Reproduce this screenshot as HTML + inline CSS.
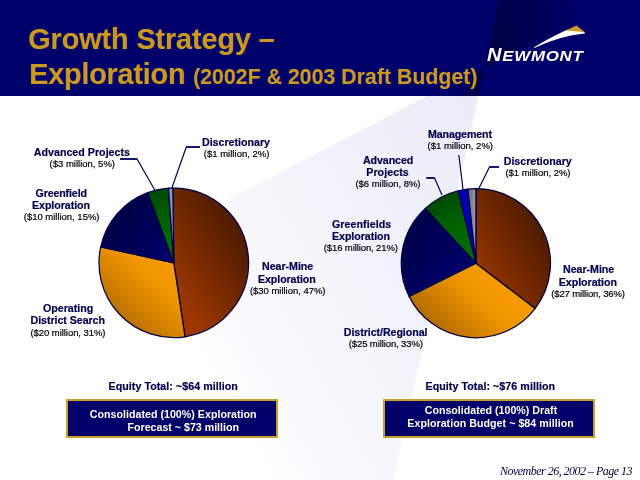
<!DOCTYPE html>
<html><head><meta charset="utf-8"><title>Growth Strategy - Exploration</title>
<style>
html,body{margin:0;padding:0;background:#fff;}
body{width:640px;height:480px;position:relative;overflow:hidden;font-family:"Liberation Sans",sans-serif;}
.tx{position:absolute;left:0;top:0;width:640px;height:480px;opacity:0.999;}
.t{position:absolute;width:300px;text-align:center;white-space:nowrap;}
.h{opacity:0.999;position:absolute;left:28px;color:#cb9a1c;font-weight:bold;white-space:nowrap;font-family:"Liberation Sans",sans-serif;font-size:29px;line-height:29px;letter-spacing:-0.3px}
.h span{font-size:21.33px;letter-spacing:0}
.box{position:absolute;background:#000068;border:2px solid #c8a030;box-sizing:border-box;}
.logo{will-change:transform;position:absolute;color:#fff;font-family:"Liberation Sans",sans-serif;font-weight:bold;font-style:italic;white-space:nowrap;}
</style></head><body>
<svg width="640" height="480" viewBox="0 0 640 480" style="position:absolute;left:0;top:0">

<defs>
 <linearGradient id="lav" gradientUnits="userSpaceOnUse" x1="484" y1="68" x2="136" y2="264">
  <stop offset="0" stop-color="#ebebf8"/><stop offset="0.35" stop-color="#f0f0fa"/><stop offset="0.69" stop-color="#f6f6fc"/><stop offset="0.88" stop-color="#fcfcfe"/><stop offset="1" stop-color="#ffffff"/>
 </linearGradient>
 <linearGradient id="dk" gradientUnits="userSpaceOnUse" x1="488" y1="45" x2="590" y2="25">
  <stop offset="0" stop-color="#000042"/><stop offset="1" stop-color="#000042" stop-opacity="0"/>
 </linearGradient>
 <linearGradient id="dk2" gradientUnits="userSpaceOnUse" x1="480" y1="90" x2="455" y2="84">
  <stop offset="0" stop-color="#000040" stop-opacity="0.9"/><stop offset="1" stop-color="#000040" stop-opacity="0"/>
 </linearGradient>
 <linearGradient id="brL" gradientUnits="userSpaceOnUse" x1="174" y1="290" x2="252" y2="240">
  <stop offset="0" stop-color="#9c3700"/><stop offset="1" stop-color="#4a1a00"/>
 </linearGradient>
 <linearGradient id="orL" gradientUnits="userSpaceOnUse" x1="185" y1="262" x2="118" y2="335">
  <stop offset="0" stop-color="#f89c00"/><stop offset="0.35" stop-color="#f09600"/><stop offset="1" stop-color="#aa6600"/>
 </linearGradient>
 <linearGradient id="brR" gradientUnits="userSpaceOnUse" x1="476" y1="282" x2="553" y2="238">
  <stop offset="0" stop-color="#9c3700"/><stop offset="1" stop-color="#4a1a00"/>
 </linearGradient>
 <linearGradient id="orR" gradientUnits="userSpaceOnUse" x1="498" y1="268" x2="430" y2="338">
  <stop offset="0" stop-color="#f89c00"/><stop offset="0.35" stop-color="#f09600"/><stop offset="1" stop-color="#a86400"/>
 </linearGradient>
 <linearGradient id="gyR" gradientUnits="userSpaceOnUse" x1="467" y1="0" x2="476" y2="0">
  <stop offset="0" stop-color="#5c5c68"/><stop offset="1" stop-color="#a4a4b0"/>
 </linearGradient>
 <radialGradient id="grL" gradientUnits="userSpaceOnUse" cx="173.8" cy="263.2" r="75">
  <stop offset="0" stop-color="#007000"/><stop offset="0.6" stop-color="#006200"/><stop offset="1" stop-color="#004a00"/>
 </radialGradient>
 <radialGradient id="grR" gradientUnits="userSpaceOnUse" cx="475.9" cy="263.2" r="75">
  <stop offset="0" stop-color="#007000"/><stop offset="0.6" stop-color="#006200"/><stop offset="1" stop-color="#004a00"/>
 </radialGradient>
 <linearGradient id="nvL" gradientUnits="userSpaceOnUse" x1="108" y1="205" x2="172" y2="262">
  <stop offset="0" stop-color="#000040"/><stop offset="1" stop-color="#00006c"/>
 </linearGradient>
 <linearGradient id="nvR" gradientUnits="userSpaceOnUse" x1="405" y1="205" x2="472" y2="268">
  <stop offset="0" stop-color="#000040"/><stop offset="1" stop-color="#00006c"/>
 </linearGradient>
</defs>

<rect x="0" y="0" width="640" height="480" fill="#ffffff"/>
<polygon points="478.2,96 427.6,96 0,317.2 0,480 393.5,480" fill="url(#lav)"/>
<rect x="0" y="0" width="640" height="96" fill="#00006b"/>
<polygon points="499,0 484.2,68.4 618,0" fill="url(#dk)"/>
<polygon points="484.2,68.4 478.2,96 427.6,96" fill="url(#dk2)"/>
<g fill="none" stroke="#000058" stroke-width="1.2">
 <polyline points="137,159 154.8,190"/>
 <polyline points="186.3,147 171.5,189"/>
 <polyline points="458.8,155 463,189"/>
 <polyline points="434.5,178 442,195"/>
 <polyline points="489.5,167 478.8,188.5"/>
</g>
<g fill="none" stroke="#000058" stroke-width="1.8">
 <polyline points="120,159 137.4,159"/>
 <polyline points="200,147 186,147"/>
 <polyline points="426.3,178 434.8,178"/>
 <polyline points="499,167 489.2,167"/>
</g>
<path d="M173.80,262.80 L172.89,188.01 A74.8,74.8 0 0 1 184.99,336.76 Z" fill="url(#brL)" stroke="#000048" stroke-width="1.25" stroke-linejoin="round"/>
<path d="M173.80,262.80 L184.99,336.76 A74.8,74.8 0 0 1 100.72,246.87 Z" fill="url(#orL)" stroke="#000048" stroke-width="1.25" stroke-linejoin="round"/>
<path d="M173.80,262.80 L100.72,246.87 A74.8,74.8 0 0 1 147.73,192.69 Z" fill="url(#nvL)" stroke="#000048" stroke-width="1.25" stroke-linejoin="round"/>
<path d="M173.80,262.80 L147.73,192.69 A74.8,74.8 0 0 1 168.45,188.19 Z" fill="url(#grL)" stroke="#000048" stroke-width="1.25" stroke-linejoin="round"/>
<path d="M173.80,262.80 L168.45,188.19 A74.8,74.8 0 0 1 172.89,188.01 Z" fill="#8c94b4" stroke="#000048" stroke-width="1.25" stroke-linejoin="round"/>
<path d="M475.90,263.20 L475.90,188.60 A74.6,74.6 0 0 1 535.08,308.61 Z" fill="url(#brR)" stroke="#000048" stroke-width="1.25" stroke-linejoin="round"/>
<path d="M475.90,263.20 L535.08,308.61 A74.6,74.6 0 0 1 409.08,296.37 Z" fill="url(#orR)" stroke="#000048" stroke-width="1.25" stroke-linejoin="round"/>
<path d="M475.90,263.20 L409.08,296.37 A74.6,74.6 0 0 1 425.31,208.38 Z" fill="url(#nvR)" stroke="#000048" stroke-width="1.25" stroke-linejoin="round"/>
<path d="M475.90,263.20 L425.31,208.38 A74.6,74.6 0 0 1 458.11,190.75 Z" fill="url(#grR)" stroke="#000048" stroke-width="1.25" stroke-linejoin="round"/>
<path d="M475.90,263.20 L458.11,190.75 A74.6,74.6 0 0 1 467.84,189.04 Z" fill="#0000b0" stroke="#000048" stroke-width="1.25" stroke-linejoin="round"/>
<path d="M475.90,263.20 L467.84,189.04 A74.6,74.6 0 0 1 475.90,188.60 Z" fill="url(#gyR)" stroke="#000048" stroke-width="1.25" stroke-linejoin="round"/>
<!-- logo swoosh -->
<path d="M534,47.2 Q551.5,37 567,29.8 L576,30.6 Q581,31.3 585,32.3 L584.6,33.6 Q560,36 534.3,47.9 Z" fill="#ffffff"/>
<path d="M565.5,30.4 L576.4,25.4 L585,32.3 Q578,31 572,30.9 Z" fill="#c89b28"/>
</svg>
<div class="h" style="top:24.55px;letter-spacing:-0.2px">Growth Strategy &ndash;</div>
<div class="h" style="top:59.55px;left:28.9px">Exploration <span>(2002F &amp; 2003 Draft Budget)</span></div>
<div class="logo" style="left:487px;top:45.79px;font-size:18.2px;line-height:18.2px;letter-spacing:0.65px;transform:scaleX(1.1);transform-origin:0 0">N<span style="font-size:15.4px">EWMONT</span></div>
<div class="box" style="left:66px;top:399px;width:212px;height:39px"></div>
<div class="box" style="left:383px;top:399px;width:211.8px;height:39px"></div>
<div class="tx">
<div class="t" style="left:-68.12px;top:146.72px;font-size:10.67px;line-height:10.67px;font-weight:bold;font-style:normal;color:#000050;font-family:'Liberation Sans',sans-serif;letter-spacing:0.019px;-webkit-text-stroke:0.2px #000050">Advanced Projects</div>
<div class="t" style="left:-67.75px;top:158.71px;font-size:9.5px;line-height:9.5px;font-weight:normal;font-style:normal;color:#00000c;font-family:'Liberation Sans',sans-serif;letter-spacing:0.002px;-webkit-text-stroke:0.2px #00000c">($3 million, 5%)</div>
<div class="t" style="left:85.99px;top:136.72px;font-size:10.67px;line-height:10.67px;font-weight:bold;font-style:normal;color:#000050;font-family:'Liberation Sans',sans-serif;letter-spacing:-0.010px;-webkit-text-stroke:0.2px #000050">Discretionary</div>
<div class="t" style="left:86.63px;top:148.96px;font-size:9.5px;line-height:9.5px;font-weight:normal;font-style:normal;color:#00000c;font-family:'Liberation Sans',sans-serif;letter-spacing:0.019px;-webkit-text-stroke:0.2px #00000c">($1 million, 2%)</div>
<div class="t" style="left:-88.82px;top:187.97px;font-size:10.67px;line-height:10.67px;font-weight:bold;font-style:normal;color:#000050;font-family:'Liberation Sans',sans-serif;letter-spacing:-0.135px;-webkit-text-stroke:0.2px #000050">Greenfield</div>
<div class="t" style="left:-89.03px;top:199.72px;font-size:10.67px;line-height:10.67px;font-weight:bold;font-style:normal;color:#000050;font-family:'Liberation Sans',sans-serif;letter-spacing:-0.062px;-webkit-text-stroke:0.2px #000050">Exploration</div>
<div class="t" style="left:-88.38px;top:211.71px;font-size:9.5px;line-height:9.5px;font-weight:normal;font-style:normal;color:#00000c;font-family:'Liberation Sans',sans-serif;letter-spacing:-0.017px;-webkit-text-stroke:0.2px #00000c">($10 million, 15%)</div>
<div class="t" style="left:137.61px;top:260.97px;font-size:10.67px;line-height:10.67px;font-weight:bold;font-style:normal;color:#000050;font-family:'Liberation Sans',sans-serif;letter-spacing:-0.035px;-webkit-text-stroke:0.2px #000050">Near-Mine</div>
<div class="t" style="left:136.83px;top:273.97px;font-size:10.67px;line-height:10.67px;font-weight:bold;font-style:normal;color:#000050;font-family:'Liberation Sans',sans-serif;letter-spacing:-0.087px;-webkit-text-stroke:0.2px #000050">Exploration</div>
<div class="t" style="left:137.73px;top:285.71px;font-size:9.5px;line-height:9.5px;font-weight:normal;font-style:normal;color:#00000c;font-family:'Liberation Sans',sans-serif;letter-spacing:-0.032px;-webkit-text-stroke:0.2px #00000c">($30 million, 47%)</div>
<div class="t" style="left:-81.88px;top:302.97px;font-size:10.67px;line-height:10.67px;font-weight:bold;font-style:normal;color:#000050;font-family:'Liberation Sans',sans-serif;letter-spacing:-0.010px;-webkit-text-stroke:0.2px #000050">Operating</div>
<div class="t" style="left:-82.28px;top:315.47px;font-size:10.67px;line-height:10.67px;font-weight:bold;font-style:normal;color:#000050;font-family:'Liberation Sans',sans-serif;letter-spacing:-0.051px;-webkit-text-stroke:0.2px #000050">District Search</div>
<div class="t" style="left:-82.03px;top:327.71px;font-size:9.5px;line-height:9.5px;font-weight:normal;font-style:normal;color:#00000c;font-family:'Liberation Sans',sans-serif;letter-spacing:-0.062px;-webkit-text-stroke:0.2px #00000c">($20 million, 31%)</div>
<div class="t" style="left:309.94px;top:128.97px;font-size:10.67px;line-height:10.67px;font-weight:bold;font-style:normal;color:#000050;font-family:'Liberation Sans',sans-serif;letter-spacing:-0.127px;-webkit-text-stroke:0.2px #000050">Management</div>
<div class="t" style="left:310.25px;top:141.21px;font-size:9.5px;line-height:9.5px;font-weight:normal;font-style:normal;color:#00000c;font-family:'Liberation Sans',sans-serif;letter-spacing:0.002px;-webkit-text-stroke:0.2px #00000c">($1 million, 2%)</div>
<div class="t" style="left:238.08px;top:155.47px;font-size:10.67px;line-height:10.67px;font-weight:bold;font-style:normal;color:#000050;font-family:'Liberation Sans',sans-serif;letter-spacing:-0.098px;-webkit-text-stroke:0.2px #000050">Advanced</div>
<div class="t" style="left:237.53px;top:167.22px;font-size:10.67px;line-height:10.67px;font-weight:bold;font-style:normal;color:#000050;font-family:'Liberation Sans',sans-serif;letter-spacing:0.062px;-webkit-text-stroke:0.2px #000050">Projects</div>
<div class="t" style="left:237.98px;top:178.96px;font-size:9.5px;line-height:9.5px;font-weight:normal;font-style:normal;color:#00000c;font-family:'Liberation Sans',sans-serif;letter-spacing:-0.031px;-webkit-text-stroke:0.2px #00000c">($6 million, 8%)</div>
<div class="t" style="left:387.74px;top:155.97px;font-size:10.67px;line-height:10.67px;font-weight:bold;font-style:normal;color:#000050;font-family:'Liberation Sans',sans-serif;letter-spacing:-0.010px;-webkit-text-stroke:0.2px #000050">Discretionary</div>
<div class="t" style="left:387.98px;top:168.21px;font-size:9.5px;line-height:9.5px;font-weight:normal;font-style:normal;color:#00000c;font-family:'Liberation Sans',sans-serif;letter-spacing:-0.031px;-webkit-text-stroke:0.2px #00000c">($1 million, 2%)</div>
<div class="t" style="left:211.66px;top:218.97px;font-size:10.67px;line-height:10.67px;font-weight:bold;font-style:normal;color:#000050;font-family:'Liberation Sans',sans-serif;letter-spacing:0.061px;-webkit-text-stroke:0.2px #000050">Greenfields</div>
<div class="t" style="left:210.97px;top:230.97px;font-size:10.67px;line-height:10.67px;font-weight:bold;font-style:normal;color:#000050;font-family:'Liberation Sans',sans-serif;letter-spacing:-0.062px;-webkit-text-stroke:0.2px #000050">Exploration</div>
<div class="t" style="left:210.82px;top:242.71px;font-size:9.5px;line-height:9.5px;font-weight:normal;font-style:normal;color:#00000c;font-family:'Liberation Sans',sans-serif;letter-spacing:-0.106px;-webkit-text-stroke:0.2px #00000c">($16 million, 21%)</div>
<div class="t" style="left:438.61px;top:263.97px;font-size:10.67px;line-height:10.67px;font-weight:bold;font-style:normal;color:#000050;font-family:'Liberation Sans',sans-serif;letter-spacing:-0.035px;-webkit-text-stroke:0.2px #000050">Near-Mine</div>
<div class="t" style="left:437.86px;top:276.72px;font-size:10.67px;line-height:10.67px;font-weight:bold;font-style:normal;color:#000050;font-family:'Liberation Sans',sans-serif;letter-spacing:-0.037px;-webkit-text-stroke:0.2px #000050">Exploration</div>
<div class="t" style="left:438.06px;top:288.96px;font-size:9.5px;line-height:9.5px;font-weight:normal;font-style:normal;color:#00000c;font-family:'Liberation Sans',sans-serif;letter-spacing:-0.135px;-webkit-text-stroke:0.2px #00000c">($27 million, 36%)</div>
<div class="t" style="left:235.60px;top:326.72px;font-size:10.67px;line-height:10.67px;font-weight:bold;font-style:normal;color:#000050;font-family:'Liberation Sans',sans-serif;letter-spacing:-0.059px;-webkit-text-stroke:0.2px #000050">District/Regional</div>
<div class="t" style="left:235.82px;top:338.71px;font-size:9.5px;line-height:9.5px;font-weight:normal;font-style:normal;color:#00000c;font-family:'Liberation Sans',sans-serif;letter-spacing:-0.106px;-webkit-text-stroke:0.2px #00000c">($25 million, 33%)</div>
<div class="t" style="left:23.23px;top:380.77px;font-size:10.67px;line-height:10.67px;font-weight:bold;font-style:normal;color:#000050;font-family:'Liberation Sans',sans-serif;letter-spacing:0.056px;-webkit-text-stroke:0.2px #000050">Equity Total: ~$64 million</div>
<div class="t" style="left:340.33px;top:380.87px;font-size:10.67px;line-height:10.67px;font-weight:bold;font-style:normal;color:#000050;font-family:'Liberation Sans',sans-serif;letter-spacing:0.064px;-webkit-text-stroke:0.2px #000050">Equity Total: ~$76 million</div>
<div class="t" style="left:23.21px;top:409.47px;font-size:10.67px;line-height:10.67px;font-weight:bold;font-style:normal;color:#ffffff;font-family:'Liberation Sans',sans-serif;letter-spacing:0.014px">Consolidated (100%) Exploration</div>
<div class="t" style="left:33.29px;top:422.07px;font-size:10.67px;line-height:10.67px;font-weight:bold;font-style:normal;color:#ffffff;font-family:'Liberation Sans',sans-serif;letter-spacing:-0.012px">Forecast ~ $73 million</div>
<div class="t" style="left:340.95px;top:405.27px;font-size:10.67px;line-height:10.67px;font-weight:bold;font-style:normal;color:#ffffff;font-family:'Liberation Sans',sans-serif;letter-spacing:-0.006px">Consolidated (100%) Draft</div>
<div class="t" style="left:340.57px;top:418.07px;font-size:10.67px;line-height:10.67px;font-weight:bold;font-style:normal;color:#ffffff;font-family:'Liberation Sans',sans-serif;letter-spacing:0.032px">Exploration Budget ~ $84 million</div>
<div class="t" style="left:416.04px;top:464.84px;font-size:12px;line-height:12px;font-weight:normal;font-style:italic;color:#000048;font-family:'Liberation Serif',serif;letter-spacing:-0.515px">November 26, 2002 &ndash; Page 13</div>
</div>
</body></html>
